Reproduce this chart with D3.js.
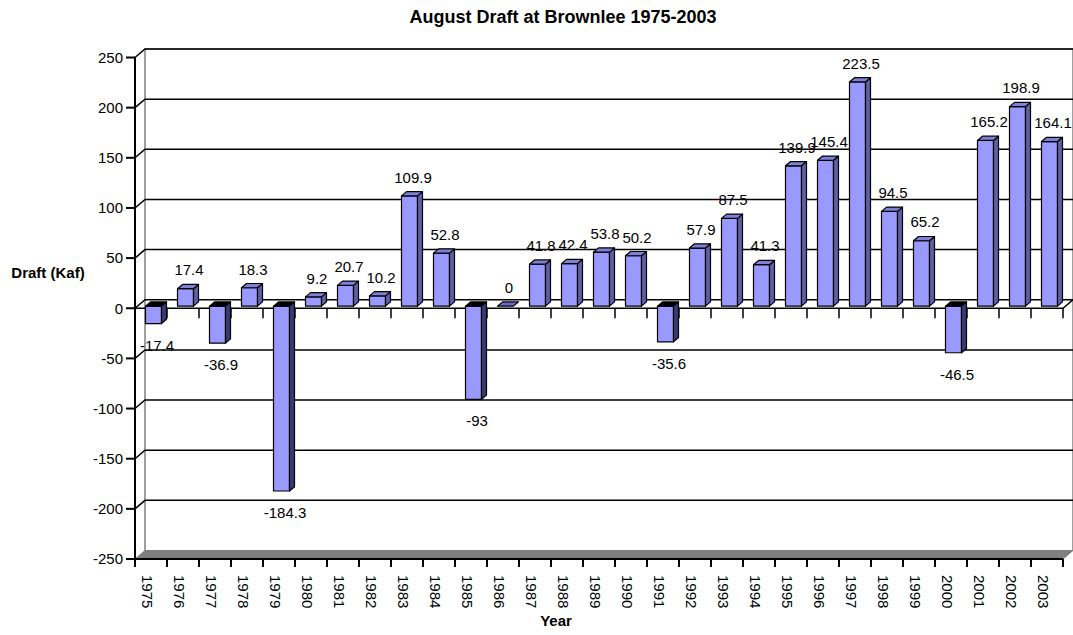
<!DOCTYPE html>
<html>
<head>
<meta charset="utf-8">
<script src="https://cdn.jsdelivr.net/npm/d3@7"></script>
<style>
  body { margin: 0; background: #fff; }
  text { font-family: "Liberation Sans", Arial, sans-serif; fill: #000; }
</style>
</head>
<body>
<script>
//data
var years = ["1975","1976","1977","1978","1979","1980","1981","1982","1983","1984",
             "1985","1986","1987","1988","1989","1990","1991","1992","1993","1994",
             "1995","1996","1997","1998","1999","2000","2001","2002","2003"];
var drafts = [-17.4, 17.4, -36.9, 18.3, -184.3, 9.2, 20.7, 10.2, 109.9, 52.8,
              -93, 0, 41.8, 42.4, 53.8, 50.2, -35.6, 57.9, 87.5, 41.3,
              139.9, 145.4, 223.5, 94.5, 65.2, -46.5, 165.2, 198.9, 164.1];
var yTicks = [-250, -200, -150, -100, -50, 0, 50, 100, 150, 200, 250];

var width = 1073,
    height = 635;

//depth of the 3d box
var DX = 10, DY = 8.5;

var svg = d3.select("body")
    .append("svg")
    .attr("width", width)
    .attr("height", height);

var x = d3.scaleBand()
    .domain(years)
    .range([135, 1063]);

//front plane y scale
var y = d3.scaleLinear()
    .domain([-250, 250])
    .range([559, 57.5]);

var left = x.range()[0], right = x.range()[1];

//back wall border
svg.append("path")
    .attr("d", "M" + (left + DX) + "," + (y(-250) - DY) +
               "V" + (y(250) - DY) + "H" + (right + DX) + "V" + (y(-250) - DY))
    .attr("fill", "none")
    .attr("stroke", "#808080")
    .attr("stroke-width", 1.5);

//gridlines on back wall and side wall
yTicks.forEach(function(t){
    if (t == -250) return;
    svg.append("path")
        .attr("d", "M" + left + "," + y(t) + "L" + (left + DX) + "," + (y(t) - DY) +
                   "H" + (right + DX))
        .attr("fill", "none")
        .attr("stroke", "#000")
        .attr("stroke-width", 1.5);
});

//floor
svg.append("path")
    .attr("d", "M" + left + "," + y(-250) + "L" + (left + DX) + "," + (y(-250) - DY) +
               "H" + (right + DX) + "L" + right + "," + y(-250) + "Z")
    .attr("fill", "#808080")
    .attr("stroke", "#808080");

//zero plane front edge
svg.append("path")
    .attr("d", "M" + left + "," + y(0) + "H" + right + "L" + (right + DX) + "," + (y(0) - DY))
    .attr("fill", "none")
    .attr("stroke", "#000")
    .attr("stroke-width", 1.5);

//category ticks at zero and at the bottom
var bounds = years.map(function(d){ return x(d); }).concat([right]);
bounds.forEach(function(b){
    svg.append("line")
        .attr("x1", b).attr("x2", b)
        .attr("y1", y(0)).attr("y2", y(0) + 10)
        .attr("stroke", "#000").attr("stroke-width", 1.5);
});

//bars
var bw = x.bandwidth() * 0.5,
    bdx = DX * 0.5, bdy = DY * 0.5;
function yb(v){ return y(v) - DY * 0.25; }

years.forEach(function(yr, i){
    var v = drafts[i];
    var x0 = x(yr) + x.bandwidth() / 2 - bw / 2 + DX * 0.25,
        x1 = x0 + bw,
        y0 = yb(0),
        yv = yb(v);
    var g = svg.append("g")
        .attr("stroke", "#000")
        .attr("stroke-width", 1.2)
        .attr("stroke-linejoin", "round");
    if (v != 0) {
        g.append("rect")
            .attr("x", x0).attr("y", Math.min(y0, yv))
            .attr("width", bw).attr("height", Math.abs(yv - y0))
            .attr("fill", "#9999ff");
        g.append("path")
            .attr("d", "M" + x1 + "," + y0 + "V" + yv + "L" + (x1 + bdx) + "," + (yv - bdy) +
                       "V" + (y0 - bdy) + "Z")
            .attr("fill", v > 0 ? "#5f5fa3" : "#3a3a70");
    }
    var yt = v >= 0 ? yv : y0;
    g.append("path")
        .attr("d", "M" + x0 + "," + yt + "L" + (x0 + bdx) + "," + (yt - bdy) +
                   "H" + (x1 + bdx) + "L" + x1 + "," + yt + "Z")
        .attr("fill", v > 0 ? "#7f7fd8" : (v == 0 ? "#6666cc" : "#000"));
});

//data labels
svg.append("g")
    .selectAll("text")
    .data(drafts)
    .enter()
    .append("text")
    .attr("x", function(d, i){ return x(years[i]) + x.bandwidth() / 2 + 6; })
    .attr("y", function(d){ return d >= 0 ? yb(d) - bdy - 9 : yb(d) + 27; })
    .attr("text-anchor", "middle")
    .attr("font-size", "15px")
    .text(function(d){ return d; });

//value axis on the front plane
svg.append("line")
    .attr("x1", left).attr("x2", left)
    .attr("y1", y(250)).attr("y2", y(-250))
    .attr("stroke", "#000").attr("stroke-width", 2);
var yAxis = svg.append("g")
    .selectAll("g")
    .data(yTicks)
    .enter()
    .append("g");
yAxis.append("line")
    .attr("x1", left - 9).attr("x2", left)
    .attr("y1", function(d){ return y(d); })
    .attr("y2", function(d){ return y(d); })
    .attr("stroke", "#000").attr("stroke-width", 2);
yAxis.append("text")
    .attr("x", left - 12)
    .attr("y", function(d){ return y(d); })
    .attr("dy", "0.35em")
    .attr("text-anchor", "end")
    .attr("font-size", "15px")
    .text(function(d){ return d; });

//category axis at the bottom
svg.append("line")
    .attr("x1", left).attr("x2", right)
    .attr("y1", y(-250)).attr("y2", y(-250))
    .attr("stroke", "#000").attr("stroke-width", 2);
bounds.forEach(function(b){
    svg.append("line")
        .attr("x1", b).attr("x2", b)
        .attr("y1", y(-250)).attr("y2", y(-250) + 8)
        .attr("stroke", "#000").attr("stroke-width", 2);
});
svg.append("g")
    .selectAll("text")
    .data(years)
    .enter()
    .append("text")
    .attr("transform", function(d){
        return "translate(" + (x(d) + x.bandwidth() / 2 - 4) + "," + 575 + ") rotate(90)";
    })
    .attr("dy", "0.35em")
    .attr("font-size", "15px")
    .text(function(d){ return d; });

//titles
svg.append("text")
    .attr("x", 563).attr("y", 23)
    .attr("text-anchor", "middle")
    .attr("font-size", "18px")
    .attr("font-weight", "bold")
    .text("August Draft at Brownlee 1975-2003");

svg.append("text")
    .attr("x", 48).attr("y", 278)
    .attr("text-anchor", "middle")
    .attr("font-size", "15px")
    .attr("font-weight", "bold")
    .text("Draft (Kaf)");

svg.append("text")
    .attr("x", 556).attr("y", 626)
    .attr("text-anchor", "middle")
    .attr("font-size", "15px")
    .attr("font-weight", "bold")
    .text("Year");
</script>
</body>
</html>
